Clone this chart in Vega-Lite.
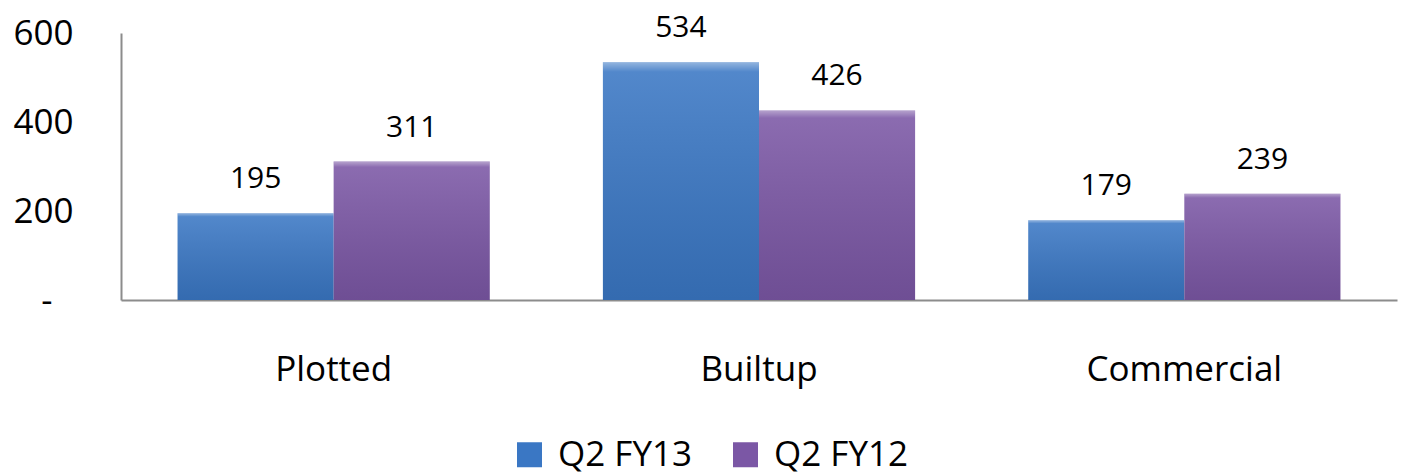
{
  "$schema": "https://vega.github.io/schema/vega-lite/v6.json",
  "autosize": "none",
  "width": 1276,
  "height": 267,
  "padding": {"left": 121, "top": 33, "right": 11, "bottom": 175},
  "background": "white",
  "config": {"view": {"stroke": null}, "font": "Open Sans"},
  "data": {
    "values": [
      {"category": "Plotted", "series": "Q2 FY13", "value": 195},
      {"category": "Plotted", "series": "Q2 FY12", "value": 311},
      {"category": "Builtup", "series": "Q2 FY13", "value": 534},
      {"category": "Builtup", "series": "Q2 FY12", "value": 426},
      {"category": "Commercial", "series": "Q2 FY13", "value": 179},
      {"category": "Commercial", "series": "Q2 FY12", "value": 239}
    ]
  },
  "encoding": {
    "x": {
      "field": "category",
      "type": "nominal",
      "sort": ["Plotted", "Builtup", "Commercial"],
      "scale": {"paddingInner": 0.266, "paddingOuter": 0.133},
      "axis": {
        "title": null,
        "labelAngle": 0,
        "ticks": false,
        "grid": false,
        "domainColor": "#8c8c8c",
        "domainWidth": 2,
        "labelFontSize": 35,
        "labelPadding": 52,
        "labelLimit": 0,
        "labelColor": "black"
      }
    },
    "xOffset": {
      "field": "series",
      "sort": ["Q2 FY13", "Q2 FY12"],
      "scale": {"paddingInner": 0, "paddingOuter": 0}
    },
    "y": {
      "field": "value",
      "type": "quantitative",
      "scale": {"domain": [0, 600], "nice": false},
      "axis": {
        "title": null,
        "values": [0, 200, 400, 600],
        "grid": false,
        "ticks": false,
        "domainColor": "#8c8c8c",
        "domainWidth": 2,
        "labelFontSize": 35,
        "labelPadding": {"condition": {"test": "datum.value == 0", "value": 69}, "value": 48},
        "labelColor": "black",
        "labelFlush": false,
        "labelOverlap": false,
        "labelExpr": "datum.value == 0 ? '-' : datum.label"
      }
    }
  },
  "layer": [
    {
      "mark": {"type": "bar"},
      "encoding": {
        "color": {
          "field": "series",
          "type": "nominal",
          "sort": ["Q2 FY13", "Q2 FY12"],
          "scale": {"range": ["#3A77C4", "#7B57A5"]},
          "legend": {
            "title": null,
            "orient": "none",
            "direction": "horizontal",
            "legendX": 391,
            "legendY": 404,
            "symbolType": "square",
            "symbolSize": 625,
            "symbolStrokeWidth": 0,
            "symbolOpacity": 1,
            "labelFontSize": 35,
            "labelOffset": 11,
            "columnPadding": 36,
            "padding": 0,
            "labelColor": "black"
          }
        }
      }
    },
    {
      "mark": {
        "type": "bar",
        "color": {
          "gradient": "linear",
          "x1": 0, "y1": 0, "x2": 0, "y2": 1,
          "stops": [
            {"offset": 0, "color": "rgba(255,255,255,0.45)"},
            {"offset": 0.04, "color": "rgba(255,255,255,0.12)"},
            {"offset": 1, "color": "rgba(0,0,0,0.1)"}
          ]
        }
      }
    },
    {
      "mark": {"type": "text", "dy": -34, "fontSize": 30, "baseline": "middle", "color": "black"},
      "encoding": {"text": {"field": "value", "type": "quantitative"}}
    }
  ]
}
